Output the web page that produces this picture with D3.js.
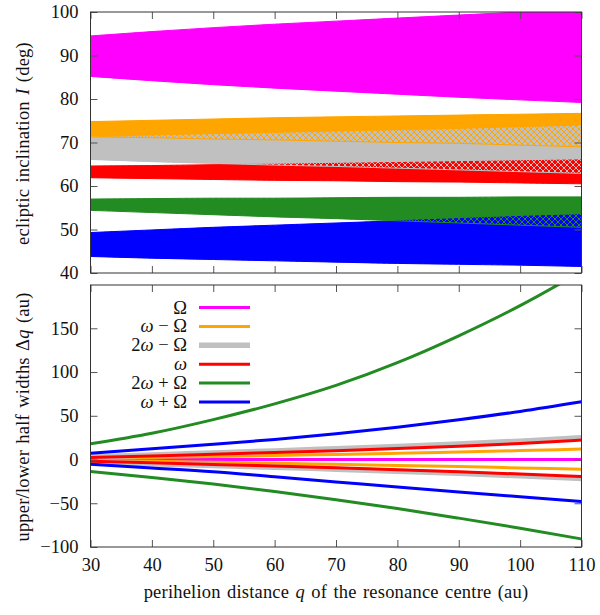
<!DOCTYPE html>
<html>
<head>
<meta charset="utf-8">
<script src="https://cdn.jsdelivr.net/npm/d3@7"></script>
<style>
  body { margin: 0; background: #fff; }
  svg text { font-family: "Liberation Serif", "Times New Roman", serif; font-size: 18.5px; fill: #111; }
  svg text.title { word-spacing: 1.5px; letter-spacing: 0.2px; }
</style>
</head>
<body>
<svg id="chart" width="600" height="615"></svg>
<script>
// perihelion distance of the resonance centre (au)
const q = [30, 40, 50, 60, 70, 80, 90, 100, 110];

// resonance names, legend order: Ω, ω−Ω, 2ω−Ω, ω, 2ω+Ω, ω+Ω
const seriesNames = [
  [{ t: 'Ω' }],
  [{ t: 'ω', i: true }, { t: ' − Ω' }],
  [{ t: '2' }, { t: 'ω', i: true }, { t: ' − Ω' }],
  [{ t: 'ω', i: true }],
  [{ t: '2' }, { t: 'ω', i: true }, { t: ' + Ω' }],
  [{ t: 'ω', i: true }, { t: ' + Ω' }]
];

// ecliptic inclination bands (deg), lower and upper edge per series
const incLow = [
  [85.2, 84.2, 83.3, 82.5, 81.8, 81.1, 80.4, 79.8, 79.2],
  [71.3, 71.1, 70.8, 70.6, 70.3, 70.0, 69.8, 69.4, 69.0],
  [66.1, 65.6, 65.2, 64.8, 64.5, 64.1, 63.7, 63.3, 62.9],
  [61.9, 61.7, 61.5, 61.3, 61.2, 61.0, 60.9, 60.7, 60.5],
  [54.4, 53.9, 53.4, 52.9, 52.5, 52.0, 51.5, 51.0, 50.5],
  [43.8, 43.4, 43.1, 42.8, 42.5, 42.2, 42.0, 41.8, 41.5]
];
const incHigh = [
  [94.5, 95.5, 96.4, 97.2, 97.9, 98.6, 99.3, 100.0, 100.6],
  [74.8, 75.1, 75.4, 75.7, 75.9, 76.1, 76.3, 76.5, 76.7],
  [71.1, 71.5, 71.8, 72.1, 72.4, 72.7, 73.0, 73.4, 73.8],
  [64.6, 64.7, 64.9, 65.0, 65.2, 65.4, 65.6, 65.8, 66.0],
  [57.0, 57.1, 57.2, 57.2, 57.3, 57.4, 57.4, 57.5, 57.5],
  [49.3, 49.9, 50.5, 51.0, 51.5, 52.0, 52.5, 53.0, 53.4]
];

// upper / lower half widths Δq (au)
const dqUp = [
  [0, 0, 0, 0, 0, 0, 0, 0, 0],
  [1.0, 2.2, 3.4, 4.6, 5.8, 7.1, 8.6, 10.2, 11.9],
  [3.0, 5.2, 7.5, 9.8, 12.3, 14.9, 17.7, 21.0, 25.0],
  [2.2, 4.1, 6.0, 8.0, 10.1, 12.5, 15.2, 18.4, 22.2],
  [18.0, 30.0, 45.6, 63.6, 84.7, 110.7, 141.4, 175.9, 215.0],
  [7.3, 12.2, 17.4, 23.0, 29.5, 37.0, 45.5, 55.0, 66.0]
];
const dqDown = [
  [0, 0, 0, 0, 0, 0, 0, 0, 0],
  [-1.0, -2.1, -3.2, -4.3, -5.5, -6.8, -8.1, -9.6, -11.1],
  [-3.0, -4.8, -6.8, -8.8, -11.0, -13.3, -15.8, -18.6, -21.8],
  [-2.0, -3.8, -5.6, -7.5, -9.5, -11.6, -14.0, -16.6, -19.5],
  [-13.8, -20.5, -28.0, -36.5, -46.0, -56.0, -67.0, -78.5, -90.8],
  [-5.4, -9.6, -14.0, -19.8, -25.6, -31.4, -37.0, -42.5, -47.9]
];

const qTicks = [30, 40, 50, 60, 70, 80, 90, 100, 110];
const incTicks = [40, 50, 60, 70, 80, 90, 100];
const dqTicks = [-100, -50, 0, 50, 100, 150];

const colors = ['#ff00ff', '#ffa500', '#c0c0c0', '#ff0000', '#228b22', '#0000ff'];
const widths = [3, 3, 5.5, 3, 3, 3];

const svg = d3.select('#chart');
const L = 90.5, R = 581.5;
const top1 = 12, bot1 = 273, top2 = 285, bot2 = 547;

const x = d3.scaleLinear([30, 110], [L, R]);
const yInc = d3.scaleLinear([40, 100], [bot1, top1]);
const yDq = d3.scaleLinear([-100, 199.5], [bot2, top2]);

const defs = svg.append('defs');
defs.append('clipPath').attr('id', 'clip1')
  .append('rect').attr('x', L).attr('y', top1).attr('width', R - L).attr('height', bot1 - top1);
defs.append('clipPath').attr('id', 'clip2')
  .append('rect').attr('x', L).attr('y', top2).attr('width', R - L).attr('height', bot2 - top2);

colors.forEach((c, i) => {
  const p = defs.append('pattern').attr('id', 'hatch' + i)
    .attr('patternUnits', 'userSpaceOnUse').attr('width', 6).attr('height', 6);
  p.append('path').attr('d', 'M0,0L6,6M6,0L0,6M-1,5L1,7M5,-1L7,1')
    .attr('stroke', c).attr('stroke-width', 1).attr('fill', 'none');
});

// ---- top panel: inclination bands ----
const g1 = svg.append('g').attr('clip-path', 'url(#clip1)');
const band = i => d3.area()
  .x((d, k) => x(q[k]))
  .y0((d, k) => yInc(incLow[i][k]))
  .y1((d, k) => yInc(incHigh[i][k]))
  .curve(d3.curveMonotoneX)(q);

colors.forEach((c, i) => {
  g1.append('path').attr('d', band(i)).attr('fill', c).attr('stroke', 'none');
});
// overlaps: the earlier band shows as a crosshatch on top of the later one,
// so hatches go on in reverse order
colors.map((c, i) => i).reverse().forEach(i => {
  g1.append('path').attr('d', band(i)).attr('fill', `url(#hatch${i})`)
    .attr('stroke', colors[i]).attr('stroke-width', 1);
});

// ---- bottom panel: half widths ----
const g2 = svg.append('g').attr('clip-path', 'url(#clip2)');
const line = vals => d3.line()
  .x((d, k) => x(q[k]))
  .y((d, k) => yDq(vals[k]))
  .curve(d3.curveMonotoneX)(q);

colors.forEach((c, i) => {
  [dqUp[i], dqDown[i]].forEach(v => {
    g2.append('path').attr('d', line(v)).attr('fill', 'none')
      .attr('stroke', c).attr('stroke-width', widths[i]);
  });
});

// ---- frames and ticks ----
function frame(yScale, ticks, yTop, yBot, xLabels) {
  const fmt = d3.format('d');
  svg.append('g').attr('transform', `translate(0,${yBot})`)
    .call(d3.axisBottom(x).tickValues(qTicks).tickSize(-7).tickPadding(11)
      .tickFormat(xLabels ? fmt : ''));
  svg.append('g').attr('transform', `translate(0,${yTop})`)
    .call(d3.axisTop(x).tickValues(qTicks).tickSize(-7).tickFormat(''));
  svg.append('g').attr('transform', `translate(${L},0)`)
    .call(d3.axisLeft(yScale).tickValues(ticks).tickSize(-7).tickPadding(12).tickFormat(fmt));
  svg.append('g').attr('transform', `translate(${R},0)`)
    .call(d3.axisRight(yScale).tickValues(ticks).tickSize(-7).tickFormat(''));
  svg.append('rect').attr('x', L).attr('y', yTop).attr('width', R - L).attr('height', yBot - yTop)
    .attr('fill', 'none').attr('stroke', '#333').attr('stroke-width', 1);
}
frame(yInc, incTicks, top1, bot1, false);
frame(yDq, dqTicks, top2, bot2, true);
svg.selectAll('.domain').remove();
svg.selectAll('.tick line').attr('stroke', '#555');
svg.selectAll('.tick text').attr('fill', '#111');

// ---- legend ----
const leg = svg.append('g');
seriesNames.forEach((parts, i) => {
  const yy = 307.5 + i * 18.9;
  const t = leg.append('text').attr('x', 187).attr('y', yy + 6).attr('text-anchor', 'end');
  parts.forEach(p => t.append('tspan').text(p.t).attr('font-style', p.i ? 'italic' : null));
  leg.append('line').attr('x1', 199).attr('x2', 250).attr('y1', yy).attr('y2', yy)
    .attr('stroke', colors[i]).attr('stroke-width', widths[i]);
});

// ---- axis titles ----
const t1 = svg.append('text').attr('class', 'title')
  .attr('transform', 'translate(29,143.5) rotate(-90)').attr('text-anchor', 'middle');
t1.append('tspan').text('ecliptic inclination ');
t1.append('tspan').text('I').attr('font-style', 'italic');
t1.append('tspan').text(' (deg)');

const t2 = svg.append('text').attr('class', 'title')
  .attr('transform', 'translate(29,417) rotate(-90)').attr('text-anchor', 'middle');
t2.append('tspan').text('upper/lower half widths Δ');
t2.append('tspan').text('q').attr('font-style', 'italic');
t2.append('tspan').text(' (au)');

const t3 = svg.append('text').attr('class', 'title')
  .attr('x', (L + R) / 2).attr('y', 598).attr('text-anchor', 'middle');
t3.append('tspan').text('perihelion distance ');
t3.append('tspan').text('q').attr('font-style', 'italic');
t3.append('tspan').text(' of the resonance centre (au)');
</script>
</body>
</html>
